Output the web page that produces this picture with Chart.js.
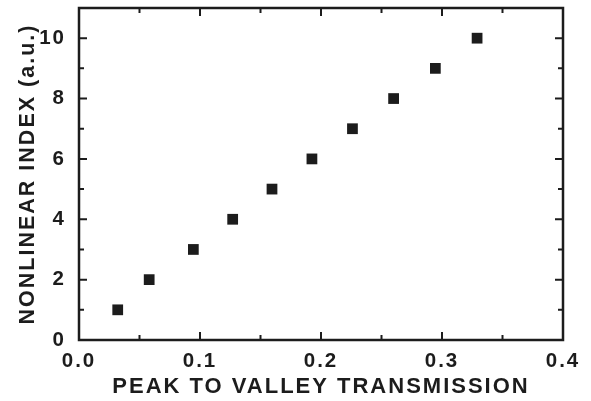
<!DOCTYPE html>
<html>
<head>
<meta charset="utf-8">
<script src="https://cdn.jsdelivr.net/npm/chart.js@4/dist/chart.umd.min.js"></script>
<style>
  html, body { margin: 0; padding: 0; background: #fff; }
  #wrap { width: 591px; height: 401px; }
</style>
</head>
<body>
<div id="wrap"><canvas id="plot" width="591" height="401"></canvas></div>
<script>
// Werte
const peakToValley = [0.032, 0.058, 0.0945, 0.127, 0.1595, 0.1925, 0.226, 0.260, 0.2945, 0.329];
const nonlinearIndex = [1, 2, 3, 4, 5, 6, 7, 8, 9, 10];
const xTickLabels = ['0.0', '0.1', '0.2', '0.3', '0.4'];
const yTickLabels = ['0', '2', '4', '6', '8', '10'];

const ink = '#1c1c1c';
const fontFam = "'Liberation Sans', Arial, sans-serif";

// Rahmen + Ticks nach innen (wie Origin)
const rahmen = {
  id: 'rahmen',
  beforeUpdate(chart) { chart.ctx.letterSpacing = '2px'; },
  beforeDraw(chart) { chart.ctx.letterSpacing = '2px'; },
  afterDraw(chart) {
    const { ctx, chartArea: a, scales: { x, y } } = chart;
    ctx.save();
    ctx.strokeStyle = ink;
    ctx.lineWidth = 2.5;
    ctx.strokeRect(a.left, a.top, a.right - a.left, a.bottom - a.top);
    ctx.lineWidth = 2;
    ctx.beginPath();
    for (let i = 1; i < 8; i++) {
      const px = x.getPixelForValue(i * 0.05);
      const len = i % 2 === 0 ? 8 : 5;
      ctx.moveTo(px, a.bottom); ctx.lineTo(px, a.bottom - len);
      ctx.moveTo(px, a.top); ctx.lineTo(px, a.top + len);
    }
    for (let i = 1; i <= 10; i++) {
      const py = y.getPixelForValue(i);
      const len = i % 2 === 0 ? 8 : 5;
      ctx.moveTo(a.left, py); ctx.lineTo(a.left + len, py);
      ctx.moveTo(a.right, py); ctx.lineTo(a.right - len, py);
    }
    ctx.stroke();
    ctx.restore();
  }
};

new Chart(document.getElementById('plot'), {
  type: 'scatter',
  data: {
    datasets: [{
      data: peakToValley.map((v, i) => ({ x: v, y: nonlinearIndex[i] })),
      pointStyle: 'rect',
      pointRadius: 7.6,
      pointBorderWidth: 0,
      backgroundColor: ink,
      borderColor: ink
    }]
  },
  options: {
    responsive: false,
    animation: false,
    layout: { padding: { top: 8, right: 28, left: 0, bottom: 0 } },
    plugins: { legend: { display: false }, tooltip: { enabled: false } },
    scales: {
      x: {
        type: 'linear',
        min: 0, max: 0.4,
        grid: { display: false },
        border: { display: false },
        ticks: {
          stepSize: 0.1,
          padding: 1,
          color: ink,
          font: { family: fontFam, size: 20.5, weight: 'bold' },
          callback: (v, i) => xTickLabels[i]
        },
        title: {
          display: true,
          text: 'PEAK TO VALLEY TRANSMISSION',
          color: ink,
          font: { family: fontFam, size: 22, weight: 'bold' },
          padding: { top: 0, bottom: 1 }
        },
        afterFit(s) { s.height = 61; s.paddingLeft = 0; s.paddingRight = 0; }
      },
      y: {
        type: 'linear',
        min: 0, max: 11,
        grid: { display: false },
        border: { display: false },
        ticks: {
          stepSize: 2,
          includeBounds: false,
          padding: 5,
          color: ink,
          font: { family: fontFam, size: 20.5, weight: 'bold' },
          callback: (v, i) => yTickLabels[i]
        },
        title: {
          display: true,
          text: 'NONLINEAR INDEX (a.u.)',
          color: ink,
          font: { family: fontFam, size: 21.5, weight: 'bold' },
          padding: { top: 15, bottom: 0 }
        },
        afterFit(s) { s.width = 79; s.paddingTop = 0; s.paddingBottom = 0; }
      }
    }
  },
  plugins: [rahmen]
});
</script>
</body>
</html>
